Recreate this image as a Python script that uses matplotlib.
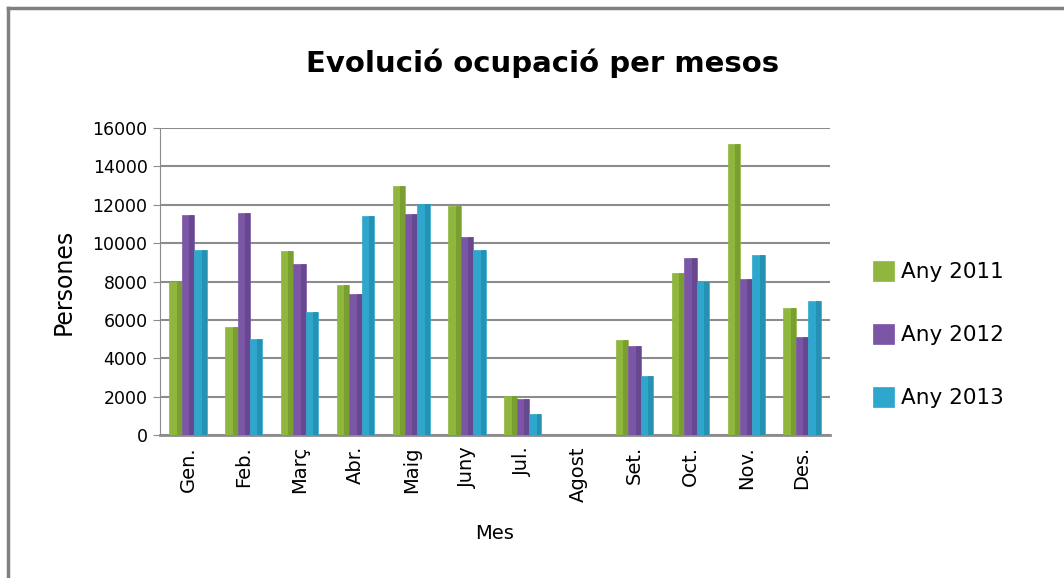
import matplotlib as mpl
mpl.use('Agg')
import matplotlib.pyplot as plt
from matplotlib.lines import Line2D
import numpy as np

mesos = ['Gen.', 'Feb.', 'Març', 'Abr.', 'Maig', 'Juny', 'Jul.', 'Agost',
         'Set.', 'Oct.', 'Nov.', 'Des.']
any_2011 = [8000, 5650, 9600, 7800, 13000, 11950, 2050, 0, 4950, 8450, 15150, 6600]
any_2012 = [11450, 11550, 8900, 7350, 11500, 10300, 1900, 0, 4650, 9200, 8150, 5100]
any_2013 = [9650, 5000, 6400, 11400, 12050, 9650, 1100, 0, 3050, 7950, 9400, 7000]
series = [('Any 2011', any_2011), ('Any 2012', any_2012), ('Any 2013', any_2013)]

colors = ['#8fb73e', '#7b56a6', '#2fa7cd']
darks = ['#6a8c27', '#5a3c80', '#1e7f9e']

mpl.rcParams.update({'font.family': 'DejaVu Sans', 'font.size': 12})

fig = plt.figure(figsize=(10.64, 5.78), dpi=100, facecolor='w')
ax = fig.add_axes([0.1504, 0.2474, 0.6296, 0.5311])

x = np.arange(len(mesos))
w = 1 / 4.5
for i, (name, vals) in enumerate(series):
    pos = x + (i - 1) * w
    ax.bar(pos, vals, w, color=colors[i], edgecolor=colors[i], lw=0.5,
           label=name, zorder=3)
    # darker right facet for the bevelled look
    ax.bar(pos + w * 0.3, vals, w * 0.4, color=darks[i], lw=0, alpha=0.55, zorder=4)

ax.set_xlim(-0.5, 11.5)
ax.set_ylim(0, 16000)
ax.set_yticks(np.arange(0, 16001, 2000))
ax.set_xticks(x)
ax.set_xticklabels(mesos, rotation=90, fontsize=14)
ax.tick_params(axis='x', length=0, pad=8)
ax.tick_params(axis='y', length=5, color='#8c8c8c', labelsize=12.5, pad=4)
ax.yaxis.grid(True, color='#8c8c8c', lw=1.5, zorder=0)
ax.set_axisbelow(True)
for s in ['top', 'right']:
    ax.spines[s].set_visible(False)
ax.spines['left'].set_color('#8c8c8c')
ax.spines['bottom'].set_color('#8c8c8c')
ax.spines['bottom'].set_linewidth(2)

ax.set_ylabel('Persones', fontsize=17, labelpad=12)
ax.set_xlabel('Mes', fontsize=14, labelpad=16)

fig.text(0.51, 0.89, 'Evolució ocupació per mesos', ha='center', va='center',
         fontsize=21, fontweight='bold')

ax.legend(loc='center left', bbox_to_anchor=(1.035, 0.326), frameon=False,
          fontsize=15.5, handlelength=1.0, handleheight=1.0, handletextpad=0.3,
          labelspacing=1.95)

# figure frame (left and top edges visible)
fig.add_artist(Line2D([0.0075, 0.0075], [0, 0.986], color='#808080', lw=2.5,
                      transform=fig.transFigure))
fig.add_artist(Line2D([0.0075, 1.0], [0.986, 0.986], color='#808080', lw=2.5,
                      transform=fig.transFigure))

fig.savefig('out.png', dpi=100)
